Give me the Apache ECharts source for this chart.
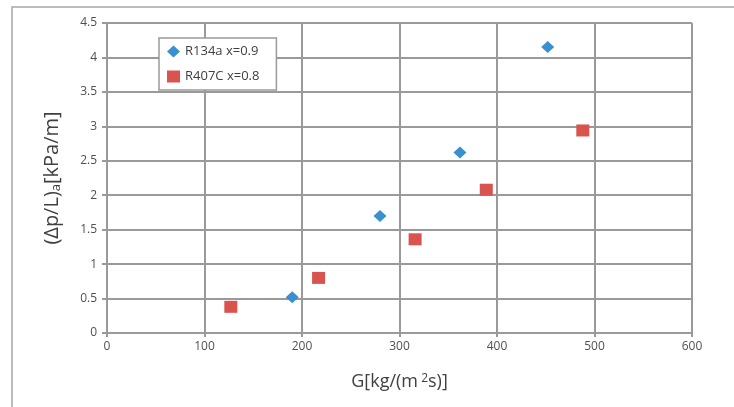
<!DOCTYPE html>
<html><head><meta charset="utf-8">
<script src="https://cdn.jsdelivr.net/npm/echarts@6/dist/echarts.min.js"></script>
<style>html,body{margin:0;padding:0;background:#fff}#c{width:734px;height:407px}</style>
</head><body><div id="c"></div>
<script>
var seriesNames = ['R134a x=0.9', 'R407C x=0.8'];
var r134aG = [190, 280, 362, 452];
var r134aDp = [0.52, 1.70, 2.62, 4.15];
var r407cG = [127, 217, 316, 389, 488];
var r407cDp = [0.38, 0.80, 1.36, 2.08, 2.94];
var xTicks = [0, 100, 200, 300, 400, 500, 600];
var yTicks = [0, 0.5, 1, 1.5, 2, 2.5, 3, 3.5, 4, 4.5];

function pairs(xs, ys) { return xs.map(function (x, i) { return [x, ys[i]]; }); }

var chart = echarts.init(document.getElementById('c'));
var gray = '#9a9a9a';
var labelColor = '#505050';
var titleColor = '#404040';
var font = 'Open Sans, Liberation Sans, sans-serif';
chart.setOption({
  animation: false,
  backgroundColor: '#fff',
  graphic: [{
    type: 'rect', shape: {x: 12, y: 7, width: 760, height: 440},
    style: {fill: 'none', stroke: '#a6a6a6', lineWidth: 1.5}, z: -10
  }],
  grid: {left: 107, top: 23, right: 42, bottom: 74},
  legend: {
    orient: 'vertical', left: 159, top: 38,
    data: seriesNames,
    backgroundColor: '#fff', borderColor: '#9a9a9a', borderWidth: 1.5,
    padding: [7, 17, 7, 8], itemGap: 12, itemWidth: 13, itemHeight: 12,
    textStyle: {color: titleColor, fontSize: 13, fontFamily: font}
  },
  xAxis: {
    type: 'value', min: xTicks[0], max: xTicks[xTicks.length - 1], interval: 100,
    name: '{n|G[kg/(m}{s| 2}{n|s)]}', nameLocation: 'middle', nameGap: 40,
    nameTextStyle: {rich: {n: {fontSize: 18, color: titleColor, fontFamily: font}, s: {fontSize: 12, color: titleColor, fontFamily: font, verticalAlign: 'top', padding: [0, 0, 6, 0]}}},
    axisLine: {lineStyle: {color: gray, width: 2}},
    axisTick: {show: true, length: 4, lineStyle: {color: gray, width: 2}},
    axisLabel: {color: labelColor, fontSize: 12, fontFamily: font, margin: 8},
    splitLine: {show: true, lineStyle: {color: gray, width: 2}}
  },
  yAxis: {
    type: 'value', min: yTicks[0], max: yTicks[yTicks.length - 1], interval: 0.5,
    name: '{n|(\u0394p/L)}{s|a}{n|[kPa/m]}', nameLocation: 'middle', nameGap: 44, nameRotate: 90,
    nameTextStyle: {rich: {n: {fontSize: 20, color: titleColor, fontFamily: font}, s: {fontSize: 13, color: titleColor, fontFamily: font, padding: [9, 0, 0, 0]}}},
    axisLine: {show: true, lineStyle: {color: gray, width: 2}},
    axisTick: {show: true, length: 5, lineStyle: {color: gray, width: 2}},
    axisLabel: {color: labelColor, fontSize: 12, fontFamily: font, margin: 10},
    splitLine: {show: true, lineStyle: {color: gray, width: 2}}
  },
  series: [{
    name: seriesNames[0], type: 'scatter', symbol: 'diamond', symbolSize: [13, 12],
    itemStyle: {color: '#3a90cf', opacity: 1}, data: pairs(r134aG, r134aDp)
  }, {
    name: seriesNames[1], type: 'scatter', symbol: 'rect', symbolSize: [13, 12],
    itemStyle: {color: '#d9534f', opacity: 1}, data: pairs(r407cG, r407cDp)
  }]
});
</script></body></html>
